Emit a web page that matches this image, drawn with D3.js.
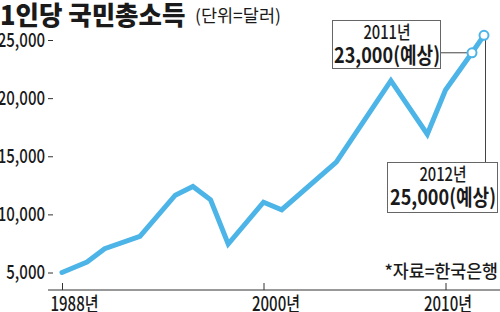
<!DOCTYPE html>
<html>
<head>
<meta charset="utf-8">
<script src="https://cdn.jsdelivr.net/npm/d3@7"></script>
<style>
  body { margin: 0; background: #fff; }
  svg { display: block; }
  text { font-family: "Noto Sans CJK KR", "Noto Sans", sans-serif; fill: #1a1a1a; }
</style>
</head>
<body>
<div id="chart"></div>
<script>
const years = [1988, 1990, 1991, 1993, 1995, 1996, 1997, 1998, 2000, 2001, 2004, 2007, 2009, 2010, 2011, 2012];
const gni = [5000, 5900, 7050, 8100, 11650, 12400, 11250, 7450, 11050, 10400, 14500, 21500, 16900, 20700, 23900, 25400];
const yTicks = [5000, 10000, 15000, 20000, 25000];
const xTicks = [1988, 2000, 2010];
const noteYears = [2011, 2012];
const noteTitles = ["2011년", "2012년"];
const noteValues = ["23,000(예상)", "25,000(예상)"];

const width = 500;
const height = 312;
const blue = "#4cb4e7";

const svg = d3.select("#chart")
  .append("svg")
  .attr("width", width)
  .attr("height", height);

const x = d3.scaleLinear()
  .domain([1988, 1990, 2000, 2010, 2011, 2012])
  .range([62, 87, 263.5, 445.5, 472, 484]);

const y = d3.scaleLinear()
  .domain([5000, 25000])
  .range([272.5, 40]);

// title
svg.append("text")
  .attr("transform", "translate(0,25) scale(0.98,1)")
  .attr("font-size", 26)
  .attr("font-weight", 900)
  .text("1인당 국민총소득");

svg.append("text")
  .attr("transform", "translate(195,22)")
  .attr("font-size", 17.5)
  .text("(단위=달러)");

// y axis
const yAxis = svg.append("g")
  .attr("transform", "translate(53,0)")
  .call(d3.axisLeft(y).tickValues(yTicks).tickSize(5).tickPadding(3).tickFormat(d3.format(",")));

yAxis.select(".domain").remove();
yAxis.selectAll(".tick line").attr("stroke", "#333");
yAxis.selectAll(".tick text")
  .attr("font-family", null)
  .attr("font-size", null)
  .style("font-size", "19.5px")
  .style("font-weight", 500)
  .attr("x", -8 / 0.77)
  .attr("transform", "scale(0.77,1)");

// x axis
svg.append("line")
  .attr("x1", 48)
  .attr("x2", width)
  .attr("y1", 290)
  .attr("y2", 290)
  .attr("stroke", "#333")
  .attr("stroke-width", 1);

const xAxis = svg.append("g")
  .attr("transform", "translate(0,290)")
  .call(d3.axisBottom(x).tickValues(xTicks).tickSize(-7).tickPadding(7).tickFormat(d => d + "년"));

xAxis.select(".domain").remove();
xAxis.selectAll(".tick line").attr("stroke", "#333");
xAxis.selectAll(".tick text")
  .attr("font-family", null)
  .attr("font-size", null)
  .style("font-size", "19.5px")
  .style("font-weight", 500)
  .attr("text-anchor", (d, i) => i === xTicks.length - 1 ? "middle" : "start")
  .attr("x", (d, i) => i === xTicks.length - 1 ? 2 / 0.77 : -12 / 0.77)
  .attr("transform", "scale(0.77,1)");

// line
const points = years.map((yr, i) => [yr, gni[i]]);

svg.append("path")
  .datum(points)
  .attr("fill", "none")
  .attr("stroke", blue)
  .attr("stroke-width", 5)
  .attr("stroke-linejoin", "miter")
  .attr("stroke-linecap", "round")
  .attr("d", d3.line().x(d => x(d[0])).y(d => y(d[1])));

// source
svg.append("text")
  .attr("transform", "translate(498,278) scale(0.96,1)")
  .attr("text-anchor", "end")
  .attr("font-size", 18)
  .attr("font-weight", 500)
  .text("*자료=한국은행");

// notes
const noteVal = yr => gni[years.indexOf(yr)];
const boxes = [
  { x: 332, y: 20, w: 108, h: 48 },
  { x: 387, y: 162, w: 110, h: 50 }
];

// leader lines
svg.append("line")
  .attr("x1", boxes[0].x + boxes[0].w)
  .attr("x2", x(noteYears[0]))
  .attr("y1", y(noteVal(noteYears[0])))
  .attr("y2", y(noteVal(noteYears[0])))
  .attr("stroke", "#444");

svg.append("line")
  .attr("x1", x(noteYears[1]) + 1.5)
  .attr("x2", x(noteYears[1]) + 1.5)
  .attr("y1", y(noteVal(noteYears[1])))
  .attr("y2", boxes[1].y)
  .attr("stroke", "#444");

svg.append("g")
  .selectAll("circle")
  .data(noteYears)
  .join("circle")
  .attr("cx", d => x(d))
  .attr("cy", d => y(noteVal(d)))
  .attr("r", 4.5)
  .attr("fill", "#fff")
  .attr("stroke", blue)
  .attr("stroke-width", 2);

const note = svg.append("g")
  .selectAll("g")
  .data(noteYears)
  .join("g")
  .attr("transform", (d, i) => `translate(${boxes[i].x},${boxes[i].y})`);

note.append("rect")
  .attr("x", 0.5)
  .attr("y", 0.5)
  .attr("width", (d, i) => boxes[i].w)
  .attr("height", (d, i) => boxes[i].h)
  .attr("fill", "#fff")
  .attr("stroke", "#666");

note.append("text")
  .attr("transform", (d, i) => `translate(${boxes[i].w / 2 + 1},19) scale(0.82,1)`)
  .attr("text-anchor", "middle")
  .attr("font-size", 18)
  .attr("font-weight", 500)
  .text((d, i) => noteTitles[i]);

note.append("text")
  .attr("transform", (d, i) => `translate(${boxes[i].w / 2 + 1},43) scale(0.84,1)`)
  .attr("text-anchor", "middle")
  .attr("font-size", 21.5)
  .attr("font-weight", 700)
  .text((d, i) => noteValues[i]);
</script>
</body>
</html>
